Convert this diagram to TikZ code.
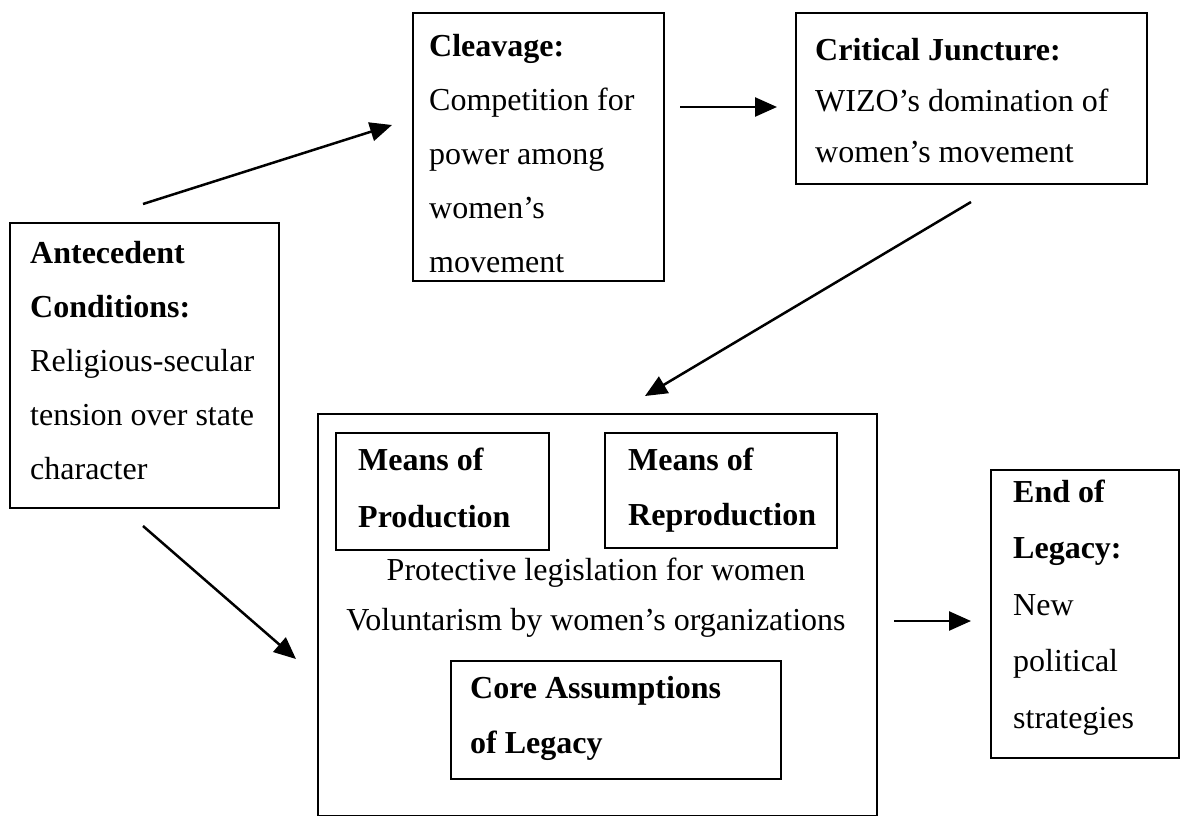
\documentclass[tikz,border=0pt]{standalone}
\usepackage{fontspec}
\setmainfont{Liberation Serif}
\usetikzlibrary{arrows.meta}
\begin{document}
\begin{tikzpicture}[x=1pt,y=-1pt,
  box/.style={draw, line width=2pt, anchor=north west, inner sep=0pt},
  txt/.style={anchor=base west, align=left, inner sep=0pt, font=\fontsize{32}{54}\selectfont},
  arr/.style={line width=2.5pt, -{Triangle[length=22pt,width=19pt]}}]
\useasboundingbox (0,0) rectangle (1180,816);

% boxes
\node[box, minimum width=269, minimum height=285] (ante) at (9,222) {};
\node[box, minimum width=251, minimum height=268] (cleave) at (412,12) {};
\node[box, minimum width=351, minimum height=171] (crit) at (795,12) {};
\node[box, minimum width=559, minimum height=402] (legacy) at (317,413) {};
\node[box, minimum width=213, minimum height=117] (prod) at (335,432) {};
\node[box, minimum width=232, minimum height=115] (repro) at (604,432) {};
\node[box, minimum width=330, minimum height=118] (core) at (450,660) {};
\node[box, minimum width=188, minimum height=288] (endl) at (990,469) {};

% texts (placed at the baseline of their last line)
\node[txt] (antet) at (30,479) {\textbf{Antecedent}\\\textbf{Conditions:}\\Religious-secular\\tension over state\\character};
\node[txt] (cleavet) at (429,272) {\textbf{Cleavage:}\\Competition for\\power among\\women’s\\movement};
\node[txt, font=\fontsize{32}{51}\selectfont] (critt) at (815,162) {\textbf{Critical Juncture:}\\WIZO’s domination of\\women’s movement};
\node[txt, font=\fontsize{32}{57}\selectfont] (prodt) at (358,527) {\textbf{Means of}\\\textbf{Production}};
\node[txt, font=\fontsize{32}{55}\selectfont] (reprot) at (628,525) {\textbf{Means of}\\\textbf{Reproduction}};
\node[txt, anchor=base] (prot) at (596,580) {Protective legislation for women};
\node[txt, anchor=base] (vol) at (596,630) {Voluntarism by women’s organizations};
\node[txt, font=\fontsize{32}{55}\selectfont] (coret) at (470,753) {\textbf{Core Assumptions}\\\textbf{of Legacy}};
\node[txt, font=\fontsize{32}{56.5}\selectfont] (endt) at (1013,728) {\textbf{End of}\\\textbf{Legacy:}\\New\\political\\strategies};

% arrows
\coordinate (a1s) at (143,204);
\coordinate (a1e) at (392,125);
\coordinate (a2s) at (680,107);
\coordinate (a2e) at (777,107);
\coordinate (a3s) at (971,202);
\coordinate (a3e) at (645,396);
\coordinate (a4s) at (143,526);
\coordinate (a4e) at (296,659);
\coordinate (a5s) at (894,621);
\coordinate (a5e) at (971,621);
\draw[arr] (a1s) -- (a1e);
\draw[arr] (a2s) -- (a2e);
\draw[arr] (a3s) -- (a3e);
\draw[arr] (a4s) -- (a4e);
\draw[arr] (a5s) -- (a5e);
\end{tikzpicture}
\end{document}
